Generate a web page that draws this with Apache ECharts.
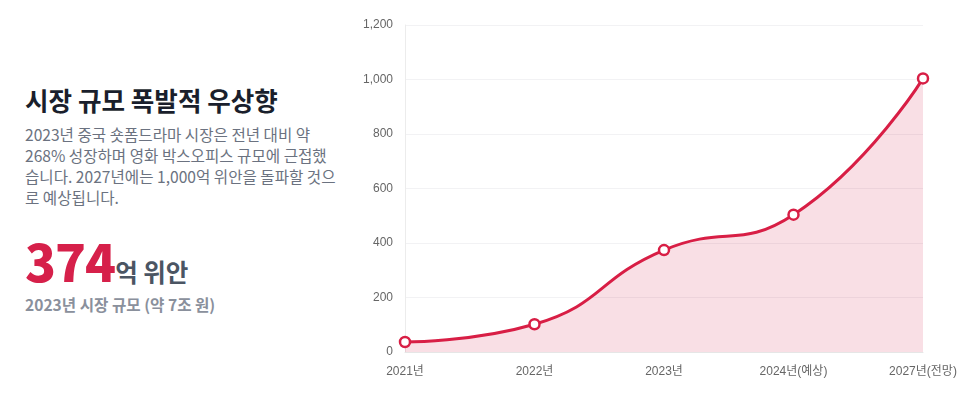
<!DOCTYPE html>
<html>
<head>
<meta charset="utf-8">
<title>시장 규모</title>
<style>
    html, body { margin: 0; padding: 0; background: #fff; }
    body { width: 975px; height: 402px; position: relative; overflow: hidden;
           font-family: "Noto Sans CJK KR", "Noto Sans", sans-serif; }
    .info { position: absolute; left: 25px; top: 83px; width: 320px; }
    .info h2 { margin: 0; font-size: 25.6px; font-weight: 700; color: #1a1f2c; line-height: 34px; }
    .info p { margin: 7px 0 0 0; font-size: 15.6px; line-height: 21px; color: #6b7280; }
    .big { margin-top: 21px; line-height: 62px; height: 62px; color: #4b5563; font-weight: 700; white-space: nowrap; }
    .big b { font-size: 51px; color: #d6204a; letter-spacing: -1px; }
    .big span { font-size: 24.5px; }
    .sub { margin-top: 2px; font-size: 15.6px; font-weight: 700; color: #8a909c; }
    #market-chart { position: absolute; left: 340px; top: 0; width: 635px; height: 402px; }
</style>
</head>
<body>

<div class="info">
    <h2>시장 규모 폭발적 우상향</h2>
    <p>2023년 중국 숏폼드라마 시장은 전년 대비 약<br>268% 성장하며 영화 박스오피스 규모에 근접했<br>습니다. 2027년에는 1,000억 위안을 돌파할 것으<br>로 예상됩니다.</p>
    <div class="big"><b>374</b><span>억 위안</span></div>
    <div class="sub">2023년 시장 규모 (약 7조 원)</div>
</div>

<div id="market-chart"></div>

<script src="https://cdn.jsdelivr.net/npm/echarts@6/dist/echarts.min.js"></script>
<script>
    var years = ['2021년', '2022년', '2023년', '2024년(예상)', '2027년(전망)']
    var marketSize = [36.8, 101.7, 374, 504, 1004]
    var yMin = 0, yMax = 1200, yStep = 200

    var chart = echarts.init(document.getElementById('market-chart'))
    var option = {
        animation: false,
        grid: { left: 65, right: 52, top: 25, bottom: 50 },
        xAxis: {
            type: 'category',
            data: years,
            boundaryGap: false,
            axisLine: { lineStyle: { color: '#e6e6e6' } },
            axisTick: { show: false },
            axisLabel: { color: '#666', fontSize: 12, margin: 14,
                         fontFamily: 'Liberation Sans, Noto Sans CJK KR' },
            splitLine: { show: false }
        },
        yAxis: {
            type: 'value',
            min: yMin, max: yMax, interval: yStep,
            axisLine: { show: true, lineStyle: { color: '#ececec' } },
            axisTick: { show: false },
            axisLabel: {
                color: '#666', fontSize: 12, margin: 12,
                fontFamily: 'Liberation Sans, Noto Sans CJK KR',
                formatter: function (v) { return v.toLocaleString('en-US') }
            },
            splitLine: { lineStyle: { color: '#f2f2f4' } }
        },
        series: [{
            type: 'line',
            data: marketSize,
            smooth: true,
            symbol: 'circle',
            symbolSize: 10,
            lineStyle: { color: '#d81e45', width: 3 },
            itemStyle: { color: '#fff', borderColor: '#d81e45', borderWidth: 2.5 },
            areaStyle: { color: 'rgba(216,30,69,0.2)' }
        }]
    }
    chart.setOption(option)
</script>
</body>
</html>
